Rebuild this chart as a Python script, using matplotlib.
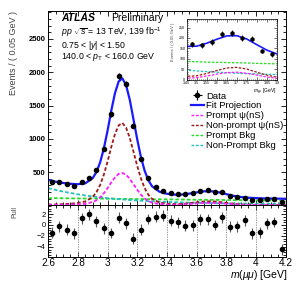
import numpy as np
import matplotlib
matplotlib.use("Agg")
import matplotlib.pyplot as plt
from matplotlib.ticker import MultipleLocator
from matplotlib.lines import Line2D

plt.rcParams['font.family'] = ['Liberation Sans', 'DejaVu Sans']
plt.rcParams['mathtext.fontset'] = 'custom'
plt.rcParams['mathtext.rm'] = 'Liberation Sans'
plt.rcParams['mathtext.it'] = 'Liberation Sans:italic'
plt.rcParams['mathtext.bf'] = 'Liberation Sans:bold'

# binned data, 0.05 GeV bins
bin_centres = [2.625, 2.675, 2.725, 2.775, 2.825, 2.875, 2.925, 2.975,
               3.025, 3.075, 3.125, 3.175, 3.225, 3.275, 3.325, 3.375,
               3.425, 3.475, 3.525, 3.575, 3.625, 3.675, 3.725, 3.775,
               3.825, 3.875, 3.925, 3.975, 4.025, 4.075, 4.125, 4.175]
counts = [348, 345, 322, 297, 352, 408, 528, 843,
          1368, 1947, 1823, 1195, 698, 417, 275, 222,
          183, 170, 165, 180, 218, 225, 199, 194,
          138, 122, 117, 83, 78, 98, 98, 53]
pulls = [-1.4, -0.2, -0.83, -1.55, 1.23, 1.93, 0.7, -0.6,
         -1.47, 1.36, 0.3, -2.48, -0.83, 1.1, 1.5, 1.72,
         0.75, 0.49, -0.11, -0.05, 1.03, 1.03, 0.0, 1.44,
         -0.36, -0.23, 0.9, -1.5, -1.32, 0.3, 0.54, -4.4]

# fit curves
curve_x = [2.60, 2.65, 2.70, 2.75, 2.80, 2.85, 2.90, 2.925, 2.95, 2.975,
           3.00, 3.025, 3.05, 3.075, 3.10, 3.125, 3.15, 3.175, 3.20, 3.225,
           3.25, 3.275, 3.30, 3.35, 3.40, 3.45, 3.50, 3.55, 3.60, 3.65,
           3.70, 3.75, 3.80, 3.85, 3.90, 3.95, 4.00, 4.05, 4.10, 4.15, 4.20]
fit_total = [383, 355, 336, 323, 317, 331, 408, 499, 645, 853,
             1120, 1420, 1685, 1862, 1908, 1806, 1585, 1291, 993, 727,
             521, 377, 286, 204, 173, 160, 161, 175, 194, 210,
             211, 195, 168, 142, 124, 114, 108, 104, 102, 100, 98]
prompt_psi = [5, 5, 7, 10, 14, 23, 49, 77, 120, 180,
              258, 344, 420, 472, 486, 459, 398, 316, 233, 160,
              103, 63, 39, 18, 10, 8, 11, 19, 28, 35,
              37, 32, 23, 14, 8, 5, 4, 3, 3, 3, 3]
nonprompt_psi = [12, 12, 17, 24, 35, 58, 125, 196, 305, 460,
                 656, 875, 1070, 1201, 1238, 1168, 1012, 805, 593, 405,
                 259, 159, 96, 41, 23, 17, 20, 31, 45, 57,
                 60, 52, 37, 23, 13, 8, 6, 5, 5, 5, 5]
prompt_bkg = [108, 107, 106, 104, 103, 102, 101, 100, 100, 99,
              98, 98, 97, 96, 96, 95, 95, 94, 94, 93,
              93, 92, 91, 90, 89, 88, 87, 85, 84, 83,
              82, 81, 79, 78, 77, 76, 75, 73, 72, 71, 70]
nonprompt_bkg = [258, 231, 206, 185, 165, 148, 133, 126, 120, 114,
                 108, 103, 98, 93, 88, 84, 80, 76, 73, 69,
                 66, 63, 60, 55, 51, 47, 43, 40, 37, 35,
                 32, 30, 29, 27, 26, 24.5, 23, 22.5, 22, 21, 20]

pull_grid = [2.8, 3.0, 3.2, 3.4, 3.6, 3.8, 4.0]

blue = '#1a1aff'
red = '#a01818'
magenta = '#ff1aff'
green = '#22dd22'
cyan = '#1fc0c0'
dash = (0, (2, 1.2))

fig = plt.figure(figsize=(3.04, 2.94), dpi=100)
ax = fig.add_axes([0.1586, 0.3017, 0.7806, 0.6619])
axp = fig.add_axes([0.1586, 0.1269, 0.7806, 0.1748])
axi = fig.add_axes([0.614, 0.728, 0.297, 0.207])

err = np.sqrt(counts)


def draw_curves(a, lw_fit, lw_comp):
    a.plot(curve_x, prompt_bkg, color=green, lw=lw_comp, ls=dash)
    a.plot(curve_x, nonprompt_bkg, color=cyan, lw=lw_comp, ls=dash)
    a.plot(curve_x, nonprompt_psi, color=red, lw=lw_comp, ls=dash)
    a.plot(curve_x, prompt_psi, color=magenta, lw=lw_comp, ls=dash)
    a.plot(curve_x, fit_total, color=blue, lw=lw_fit)


# main panel
draw_curves(ax, 1.6, 1.3)
ax.errorbar(bin_centres, counts, yerr=err, fmt='o', color='black', ms=3,
            elinewidth=0.8, capsize=0)
ax.set_xlim(2.6, 4.2)
ax.set_ylim(0, 2925)
ax.xaxis.set_major_locator(MultipleLocator(0.2))
ax.xaxis.set_minor_locator(MultipleLocator(0.05))
ax.yaxis.set_major_locator(MultipleLocator(500))
ax.yaxis.set_minor_locator(MultipleLocator(100))
ax.tick_params(which='both', direction='in', top=True, right=True, width=0.6)
ax.tick_params(which='major', length=3.8, labelsize=5.5, pad=2)
ax.tick_params(which='minor', length=1.9)
ax.tick_params(axis='x', labelbottom=False)
ax.set_yticks([500, 1000, 1500, 2000, 2500])
for lab in ax.get_yticklabels():
    lab.set_fontweight('bold')
for s in ax.spines.values():
    s.set_linewidth(0.7)

fig.text(0.044, 0.963, 'Events / ( 0.05 GeV )', rotation=90, ha='center',
         va='top', fontsize=6.5, color='#444444')

# labels
fig.text(0.2, 0.928, 'ATLAS', fontsize=7.5, fontweight='bold',
         fontstyle='italic', va='baseline')
fig.text(0.367, 0.928, 'Preliminary', fontsize=7.5, va='baseline')
fig.text(0.2, 1 - 35 / 294, r'$pp$ $\sqrt{s}$ = 13 TeV, 139 fb$^{-1}$',
         fontsize=6.3, va='baseline')
fig.text(0.2, 1 - 48 / 294, r'0.75 < |$y$| < 1.50', fontsize=6.3,
         va='baseline')
fig.text(0.2, 1 - 59 / 294, r'140.0 < $p_{\rm T}$ < 160.0 GeV',
         fontsize=6.3, va='baseline')

# legend
h_data = ax.errorbar([], [], yerr=[], xerr=[], fmt='o', color='black', ms=3,
                     elinewidth=0.8, capsize=0)
handles = [h_data,
           Line2D([], [], color=blue, lw=1.6),
           Line2D([], [], color=magenta, lw=1.0, ls=dash),
           Line2D([], [], color=red, lw=1.0, ls=dash),
           Line2D([], [], color=green, lw=1.0, ls=dash),
           Line2D([], [], color=cyan, lw=1.0, ls=dash)]
labels = ['Data', 'Fit Projection', 'Prompt \u03c8(nS)',
          'Non-prompt \u03c8(nS)', 'Prompt Bkg', 'Non-Prompt Bkg']
fig.legend(handles, labels, loc='upper left',
           bbox_to_anchor=(0.628, 1 - 91.5 / 294), frameon=False,
           fontsize=6.8, handlelength=1.35, handletextpad=0.3,
           labelspacing=0.1, borderpad=0, borderaxespad=0)

# inset
draw_curves(axi, 1.2, 0.9)
axi.errorbar(bin_centres, counts, yerr=err, fmt='o', color='black', ms=2.2,
             elinewidth=0.6, capsize=0)
axi.set_xlim(3.45, 3.9)
axi.set_ylim(0, 290)
axi.xaxis.set_minor_locator(MultipleLocator(0.01))
axi.yaxis.set_minor_locator(MultipleLocator(10))
axi.tick_params(which='both', direction='in', top=True, right=True, width=0.4)
axi.tick_params(which='major', length=2, labelsize=2.6, pad=1)
axi.tick_params(which='minor', length=1)
axi.set_xticks([3.45, 3.5, 3.55, 3.6, 3.65, 3.7, 3.75, 3.8, 3.85, 3.9])
axi.set_xticklabels(['3.45', '3.5', '3.55', '3.6', '3.65', '3.7', '3.75',
                     '3.8', '3.85', '3.9'])
axi.set_yticks([0, 50, 100, 150, 200, 250])
axi.set_yticklabels(['0', '50', '100', '150', '200', '250'])
for s in axi.spines.values():
    s.set_linewidth(0.5)
axi.set_ylabel('Events / ( 0.05 GeV )', fontsize=3, labelpad=1,
               color='#444444')
axi.yaxis.set_label_coords(-0.13, 0.62)
axi.set_xlabel(r'$m_{\mu\mu}$ [GeV]', fontsize=3.5, labelpad=1, loc='right')

# pull panel
axp.errorbar(bin_centres, pulls, yerr=1.0, fmt='o', color='black', ms=3,
             ecolor='#555555', elinewidth=0.8, capsize=0)
for g in pull_grid:
    axp.axvline(g, color='#777777', lw=0.5, ls=(0, (2, 1.5)))
axp.set_xlim(2.6, 4.2)
axp.set_ylim(-5.8, 3.6)
axp.xaxis.set_minor_locator(MultipleLocator(0.05))
axp.set_yticks([-4, -2, 0, 2])
axp.set_yticklabels(['\u22124', '\u22122', '0', '2'])
axp.yaxis.set_minor_locator(MultipleLocator(0.5))
axp.tick_params(which='both', direction='in', top=True, right=True, width=0.6)
axp.tick_params(which='major', length=3.8, pad=2)
axp.tick_params(which='minor', length=1.9)
axp.tick_params(axis='y', labelsize=5.5)
axp.tick_params(axis='x', labelsize=7.2, pad=0.8)
axp.set_xticks([2.6, 2.8, 3.0, 3.2, 3.4, 3.6, 3.8, 4.0, 4.2])
axp.set_xticklabels(['2.6', '2.8', '3', '3.2', '3.4', '3.6', '3.8', '4',
                     '4.2'])
for s in axp.spines.values():
    s.set_linewidth(0.7)

fig.text(0.049, 1 - 211.5 / 294, 'Pull', rotation=90, ha='center',
         va='center', fontsize=5, color='#444444')
fig.text(0.947, 1 - 275 / 294, r'$m$($\mu\mu$) [GeV]', ha='right',
         va='center', fontsize=7.5)

fig.savefig('out.png', dpi=100)
